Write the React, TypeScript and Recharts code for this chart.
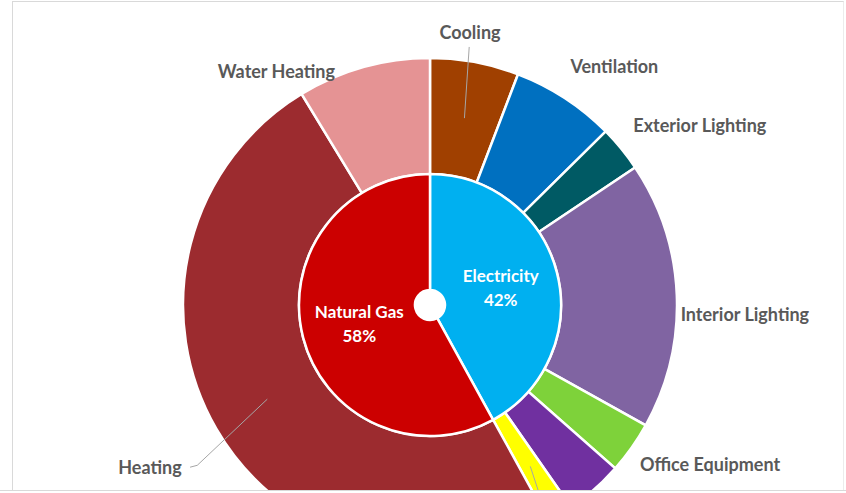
import React from "react";
import { PieChart, Pie, Cell } from "recharts";

// ---- data ----
const sourceNames = ["Electricity", "Natural Gas"];
const sourceValues = [42, 58];
const sourceColors = ["#00B0F0", "#CC0000"];

const endUseNames = [
  "Cooling",
  "Ventilation",
  "Exterior Lighting",
  "Interior Lighting",
  "Office Equipment",
  "Computers",
  "Cooking",
  "Heating",
  "Water Heating",
];
const endUseValues = [5.8, 6.8, 3.0, 17.5, 3.4, 3.8, 1.7, 49.3, 8.7];
const endUseColors = [
  "#A04000",
  "#0070C0",
  "#005A64",
  "#8064A2",
  "#7ED23A",
  "#7030A0",
  "#FFFF00",
  "#9C2B2F",
  "#E59394",
];
const hiddenLabels = ["Computers", "Cooking"];

const sourceData = sourceNames.map((name, i) => ({ name, value: sourceValues[i] }));
const endUseData = endUseNames.map((name, i) => ({ name, value: endUseValues[i] }));

// ---- label layout (polar: radius px, angle offset from slice mid-angle) ----
type Layout = { r: number; dA: number; leader?: [number, number][] };
const labelLayout: Record<string, Layout> = {
  Cooling: { r: 276, dA: 2.1, leader: [[190, 0], [261, 1.8]] },
  Ventilation: { r: 302, dA: -4.5 },
  "Exterior Lighting": { r: 324.5, dA: -5.5 },
  "Interior Lighting": { r: 315, dA: -3.9 },
  "Office Equipment": { r: 322, dA: 5.7 },
  Computers: { r: 330, dA: 0 },
  Cooking: { r: 330, dA: 0, leader: [[190, 0], [262, -3.8]] },
  Heating: { r: 323.5, dA: 0, leader: [[188, 0], [282.6, 4.5], [289.6, 4.0]] },
  "Water Heating": { r: 280, dA: 17.6 },
};

const RAD = Math.PI / 180;
const polar = (cx: number, cy: number, r: number, a: number) => ({
  x: cx + r * Math.cos(a * RAD),
  y: cy - r * Math.sin(a * RAD),
});

const FONT = "Lato, 'Open Sans', sans-serif";

const renderOuterLabel = (props: any) => {
  const { cx, cy, midAngle, name } = props;
  const lay = labelLayout[name];
  if (!lay) return null;
  const p = polar(cx, cy, lay.r, midAngle + lay.dA);
  const pts = lay.leader
    ? lay.leader.map(([r, da]) => polar(cx, cy, r, midAngle + da))
    : null;
  return (
    <g key={`lbl-${name}`}>
      {pts && (
        <polyline
          points={pts.map((q) => `${q.x},${q.y}`).join(" ")}
          fill="none"
          stroke="#A6A6A6"
          strokeWidth={1}
        />
      )}
      {!hiddenLabels.includes(name) && (
        <text
          x={p.x}
          y={p.y}
          textAnchor="middle"
          dominantBaseline="central"
          fill="#595959"
          fontFamily={FONT}
          fontWeight={700}
          fontSize={18}
        >
          {name}
        </text>
      )}
    </g>
  );
};

const renderInnerLabel = (props: any) => {
  const { cx, cy, midAngle, innerRadius, outerRadius, name, value } = props;
  const p = polar(cx, cy, (innerRadius + outerRadius) / 2, midAngle);
  return (
    <text
      key={`in-${name}`}
      x={p.x}
      y={p.y}
      textAnchor="middle"
      fill="#FFFFFF"
      fontFamily={FONT}
      fontWeight={700}
      fontSize={17}
    >
      <tspan x={p.x} dy="-0.3em">{name}</tspan>
      <tspan x={p.x} dy="1.4em">{`${value}%`}</tspan>
    </text>
  );
};

export default function App() {
  return (
    <div
      style={{
        position: "absolute",
        left: 0,
        top: 0,
        width: 846,
        height: 493,
        overflow: "hidden",
        background: "#FFFFFF",
      }}
    >
      <div style={{ position: "absolute", left: 0, top: 0 }}>
        <PieChart width={846} height={493} margin={{ top: 0, right: 0, bottom: 0, left: 0 }}>
          <Pie
            data={endUseData}
            dataKey="value"
            nameKey="name"
            cx={430}
            cy={305}
            innerRadius={131}
            outerRadius={247}
            startAngle={90}
            endAngle={-270}
            stroke="#FFFFFF"
            strokeWidth={2.5}
            label={renderOuterLabel}
            labelLine={false}
            isAnimationActive={false}
          >
            {endUseData.map((d, i) => (
              <Cell key={d.name} fill={endUseColors[i]} />
            ))}
          </Pie>
          <Pie
            data={sourceData}
            dataKey="value"
            nameKey="name"
            cx={430}
            cy={305}
            innerRadius={15}
            outerRadius={131}
            startAngle={90}
            endAngle={-270}
            stroke="#FFFFFF"
            strokeWidth={2.5}
            label={renderInnerLabel}
            labelLine={false}
            isAnimationActive={false}
          >
            {sourceData.map((d, i) => (
              <Cell key={d.name} fill={sourceColors[i]} />
            ))}
          </Pie>
        </PieChart>
      </div>
      {/* chart frame */}
      <div
        style={{
          position: "absolute",
          left: 12,
          top: 1,
          width: 830,
          height: 500,
          borderLeft: "1px solid #D9D9D9",
          borderTop: "1px solid #D9D9D9",
          borderRight: "1px solid #ECECEC",
          pointerEvents: "none",
        }}
      />
      <div
        style={{
          position: "absolute",
          left: 0,
          top: 490,
          width: 846,
          height: 3,
          background: "#FFFFFF",
          borderTop: "1px solid #D9D9D9",
          pointerEvents: "none",
        }}
      />
    </div>
  );
}
